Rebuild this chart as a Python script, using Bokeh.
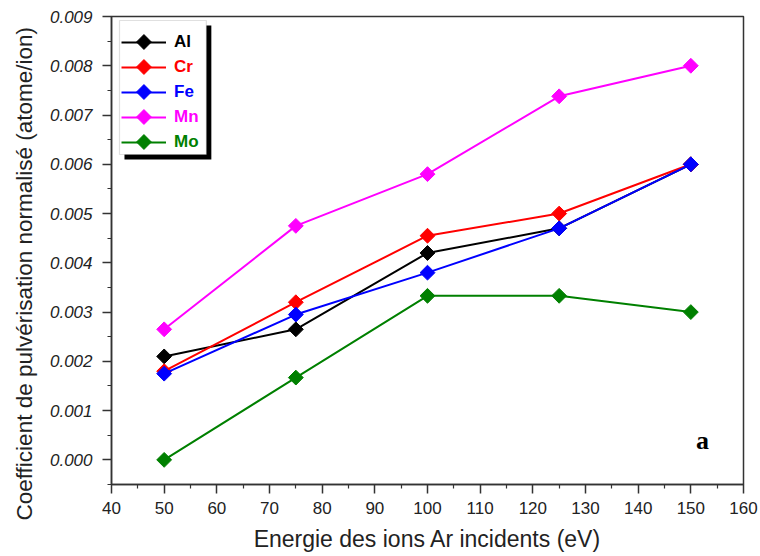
import numpy as np
from bokeh.plotting import figure
from bokeh.models import (Legend, LegendItem, FixedTicker, PrintfTickFormatter,
                          BoxAnnotation, Label, Range1d, Title)
from bokeh.embed import file_html
from bokeh.resources import INLINE

# ---- data ----
energy = [50, 75, 100, 125, 150]
al = [0.0021, 0.00265, 0.0042, 0.0047, 0.0060]
cr = [0.0018, 0.0032, 0.00455, 0.0050, 0.0060]
fe = [0.00175, 0.00295, 0.0038, 0.0047, 0.0060]
mn = [0.00265, 0.00475, 0.0058, 0.00738, 0.0080]
mo = [0.0, 0.00167, 0.00333, 0.00333, 0.0030]
names = ["Al", "Cr", "Fe", "Mn", "Mo"]
series = [al, cr, fe, mn, mo]
colors = ["#000000", "#ff0000", "#0000ff", "#ff00ff", "#008000"]
x_ticks = [40, 50, 60, 70, 80, 90, 100, 110, 120, 130, 140, 150, 160]
y_ticks = [0.000, 0.001, 0.002, 0.003, 0.004, 0.005, 0.006, 0.007, 0.008, 0.009]

# ---- layout ----
W, H = 758, 554
BL, BT = 110, 16
FW, FH = 633, 468
BR, BB = W - BL - FW, H - BT - FH
X0, X1 = 40, 160
Y0, Y1 = -0.0005, 0.009

def xd(px):
    return X0 + px / FW * (X1 - X0)

def yd(py):
    return Y1 - py / FH * (Y1 - Y0)

FONT = "Liberation Sans"

p = figure(width=W, height=H, x_range=Range1d(X0, X1), y_range=Range1d(Y0, Y1),
           output_backend="svg", toolbar_location=None,
           min_border_left=BL, min_border_right=BR, min_border_top=BT, min_border_bottom=BB)
p.xgrid.visible = False
p.ygrid.visible = False
p.outline_line_color = "#333333"
p.outline_line_width = 1.5
p.background_fill_color = "white"
p.border_fill_color = "white"

minor_x = [x + 5 for x in x_ticks[:-1]]
minor_y = [-0.0005] + [t + 0.0005 for t in y_ticks[:-1]]
p.xaxis.ticker = FixedTicker(ticks=x_ticks, minor_ticks=minor_x)
p.yaxis.ticker = FixedTicker(ticks=y_ticks, minor_ticks=minor_y)
p.yaxis.formatter = PrintfTickFormatter(format="%.3f")

for ax in (p.xaxis[0], p.yaxis[0]):
    ax.axis_line_color = "#333333"
    ax.axis_line_width = 1.5
    ax.major_tick_line_color = "#333333"
    ax.minor_tick_line_color = "#333333"
    ax.major_tick_line_width = 1.5
    ax.minor_tick_line_width = 1.2
    ax.major_tick_out = 9
    ax.major_tick_in = 0
    ax.minor_tick_out = 4
    ax.minor_tick_in = 0
    ax.major_label_text_font = FONT
    ax.major_label_text_font_size = "17px"
    ax.major_label_text_color = "#222222"
    ax.axis_label_text_font = FONT
    ax.axis_label_text_font_size = "23px"
    ax.axis_label_text_font_style = "normal"
    ax.axis_label_text_color = "#222222"

p.yaxis.major_label_text_font_style = "italic"
p.xaxis.axis_label = "Energie des ions Ar incidents (eV)"
p.xaxis.major_label_standoff = 8
p.xaxis.axis_label_standoff = 9
p.yaxis.major_label_standoff = 10

ytitle = Title(text="Coefficient de pulvérisation normalisé (atome/ion)",
               align="left", offset=-36, standoff=19,
               text_font=FONT, text_font_size="22.5px", text_font_style="normal",
               text_color="#222222")
p.add_layout(ytitle, "left")

line_renderers = []
for vals, col in zip(series, colors):
    lr = p.line(energy, vals, line_color=col, line_width=2)
    p.scatter(energy, vals, marker="square", angle=np.pi / 4, size=10.5,
              fill_color=col, line_color=col)
    line_renderers.append(lr)

# legend frame with drop shadow
shadow = BoxAnnotation(left=xd(13), right=xd(100), top=yd(9), bottom=yd(143),
                       fill_color="black", fill_alpha=1.0, line_color=None)
box = BoxAnnotation(left=xd(8), right=xd(95), top=yd(4), bottom=yd(138),
                    fill_color="white", fill_alpha=1.0, line_color="#999999", line_width=1.2)
p.add_layout(shadow)
p.add_layout(box)

ITEM_H = 25
LEG_X, LEG_Y, GLYPH_W = 10, 13, 45
for i, (name, col, lr) in enumerate(zip(names, colors, line_renderers)):
    leg = Legend(items=[LegendItem(label=name, renderers=[lr])],
                 location=(LEG_X, FH - LEG_Y - ITEM_H * (i + 1)),
                 padding=0, margin=0, spacing=0,
                 glyph_width=GLYPH_W, glyph_height=20, label_height=ITEM_H,
                 label_standoff=8,
                 label_text_font=FONT, label_text_font_style="bold",
                 label_text_font_size="17px", label_text_color=col,
                 border_line_color=None, background_fill_alpha=0)
    p.add_layout(leg)

# legend diamond symbols (rotated squares), placed at the legend glyph centres
lx = [xd(LEG_X + GLYPH_W / 2)] * len(names)
ly = [yd(LEG_Y + ITEM_H * i + ITEM_H / 2) for i in range(len(names))]
p.scatter(lx, ly, marker="square", angle=np.pi / 4, size=10.5,
          fill_color=colors, line_color=colors, level="overlay")

p.add_layout(Label(x=xd(592), y=yd(424), text="a", text_font="Liberation Serif",
                   text_font_style="bold", text_font_size="26px", text_color="black",
                   text_align="center", text_baseline="middle"))

open("out.html", "w").write(file_html(p, INLINE))
